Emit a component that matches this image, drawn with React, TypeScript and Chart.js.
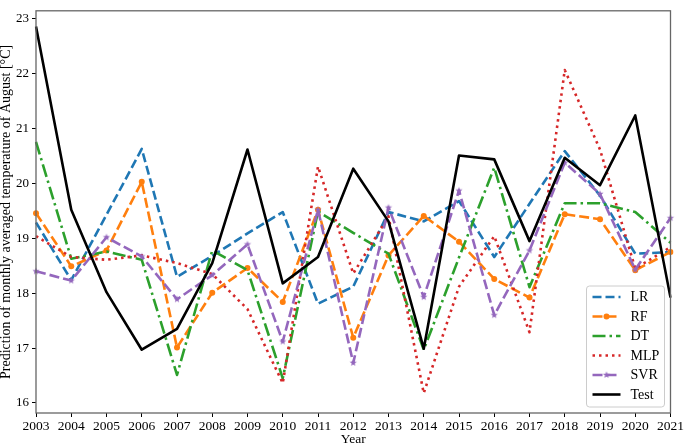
import React, { useEffect, useRef } from 'react';
import { Chart, registerables } from 'chart.js';

Chart.register(...registerables);

const years = ['2003', '2004', '2005', '2006', '2007', '2008', '2009', '2010', '2011', '2012', '2013', '2014', '2015', '2016', '2017', '2018', '2019', '2020', '2021'];

const lrValues = [19.29, 18.24, 19.43, 20.63, 18.30, 18.68, 19.09, 19.48, 17.81, 18.12, 19.48, 19.31, 19.68, 18.66, 19.63, 20.59, 19.78, 18.72, 18.75];
const rfValues = [19.46, 18.49, 18.78, 20.03, 17.01, 18.01, 18.46, 17.84, 19.52, 17.19, 18.69, 19.41, 18.94, 18.26, 17.92, 19.44, 19.35, 18.42, 18.75];
const dtValues = [20.76, 18.63, 18.76, 18.61, 16.51, 18.78, 18.42, 16.45, 19.49, 19.10, 18.72, 16.97, 18.65, 20.29, 18.11, 19.64, 19.64, 19.48, 18.92];
const mlpValues = [19.04, 18.66, 18.61, 18.69, 18.55, 18.35, 17.71, 16.36, 20.31, 18.36, 19.40, 16.18, 18.12, 19.04, 17.29, 22.07, 20.62, 18.45, 18.84];
const svrValues = [18.40, 18.23, 19.02, 18.67, 17.89, 18.33, 18.89, 17.12, 19.52, 16.73, 19.56, 17.93, 19.87, 17.60, 18.78, 20.38, 19.81, 18.43, 19.37];
const testValues = [22.86, 19.52, 18.02, 16.97, 17.35, 18.55, 20.62, 18.18, 18.66, 20.27, 19.31, 16.99, 20.51, 20.44, 18.95, 20.47, 19.97, 21.24, 17.92];

const yTicks = [16, 17, 18, 19, 20, 21, 22, 23];

const FONT = '"Liberation Serif", "Times New Roman", serif';

function makeStar(color: string, r: number): HTMLCanvasElement {
  const s = Math.ceil(r * 2 + 2);
  const c = document.createElement('canvas');
  c.width = s;
  c.height = s;
  const g = c.getContext('2d')!;
  g.fillStyle = color;
  g.beginPath();
  for (let k = 0; k < 10; k++) {
    const ang = -Math.PI / 2 + (k * Math.PI) / 5;
    const rr = k % 2 === 0 ? r : r * 0.4;
    g.lineTo(s / 2 + rr * Math.cos(ang), s / 2 + rr * Math.sin(ang));
  }
  g.closePath();
  g.fill();
  return c;
}

export default function App() {
  const ref = useRef<HTMLCanvasElement | null>(null);

  useEffect(() => {
    document.body.style.margin = '0';
    const canvas = ref.current;
    if (!canvas) return;
    const star = makeStar('#9467bd', 3.8);

    const framePlugin = {
      id: 'frame',
      afterDatasetsDraw(chart: any) {
        const { ctx, chartArea: a } = chart;
        ctx.save();
        ctx.strokeStyle = '#666';
        ctx.lineWidth = 1.3;
        ctx.setLineDash([]);
        ctx.strokeRect(a.left, a.top, a.right - a.left, a.bottom - a.top);
        ctx.restore();
      },
    };

    const legendPlugin = {
      id: 'mplLegend',
      afterDraw(chart: any) {
        const { ctx, chartArea: a } = chart;
        const w = 78;
        const h = 121;
        const x0 = a.right - 6 - w;
        const y0 = a.bottom - 6 - h;
        ctx.save();
        ctx.beginPath();
        const r = 3;
        ctx.moveTo(x0 + r, y0);
        ctx.lineTo(x0 + w - r, y0);
        ctx.quadraticCurveTo(x0 + w, y0, x0 + w, y0 + r);
        ctx.lineTo(x0 + w, y0 + h - r);
        ctx.quadraticCurveTo(x0 + w, y0 + h, x0 + w - r, y0 + h);
        ctx.lineTo(x0 + r, y0 + h);
        ctx.quadraticCurveTo(x0, y0 + h, x0, y0 + h - r);
        ctx.lineTo(x0, y0 + r);
        ctx.quadraticCurveTo(x0, y0, x0 + r, y0);
        ctx.closePath();
        ctx.fillStyle = 'rgba(255,255,255,0.85)';
        ctx.fill();
        ctx.strokeStyle = '#cccccc';
        ctx.lineWidth = 1;
        ctx.setLineDash([]);
        ctx.stroke();

        chart.data.datasets.forEach((ds: any, i: number) => {
          const y = y0 + 11 + i * 19.5;
          const lx0 = x0 + 6;
          const lx1 = x0 + 34;
          ctx.save();
          ctx.strokeStyle = ds.borderColor;
          ctx.lineWidth = ds.borderWidth;
          ctx.lineCap = 'butt';
          ctx.setLineDash(ds.borderDash || []);
          ctx.beginPath();
          ctx.moveTo(lx0, y);
          ctx.lineTo(lx1, y);
          ctx.stroke();
          ctx.restore();
          const cx = (lx0 + lx1) / 2;
          if (ds.label === 'RF') {
            ctx.fillStyle = ds.borderColor;
            ctx.beginPath();
            ctx.arc(cx, y, 3, 0, Math.PI * 2);
            ctx.fill();
          } else if (ds.label === 'SVR') {
            ctx.drawImage(star, cx - star.width / 2, y - star.height / 2);
          }
          ctx.fillStyle = '#000';
          ctx.font = '14px ' + FONT;
          ctx.textBaseline = 'middle';
          ctx.textAlign = 'left';
          ctx.fillText(ds.label, x0 + 44, y + 0.5);
        });
        ctx.restore();
      },
    };

    const base = {
      fill: false,
      tension: 0,
      borderWidth: 2.6,
      borderCapStyle: 'butt',
      borderJoinStyle: 'round',
      pointRadius: 0,
      pointHoverRadius: 0,
    };

    const chart = new Chart(canvas, {
      type: 'line',
      data: {
        labels: years,
        datasets: [
          { ...base, label: 'LR', data: lrValues, borderColor: '#1f77b4', borderDash: [9, 4], order: 5 },
          {
            ...base,
            label: 'RF',
            data: rfValues,
            borderColor: '#ff7f0e',
            borderDash: [10, 4],
            pointRadius: 3,
            pointStyle: 'circle',
            pointBackgroundColor: '#ff7f0e',
            pointBorderWidth: 0,
            order: 4,
          },
          { ...base, label: 'DT', data: dtValues, borderColor: '#2ca02c', borderDash: [13, 4, 2.5, 4], order: 3 },
          { ...base, label: 'MLP', data: mlpValues, borderColor: '#d62728', borderDash: [2.5, 4], order: 2 },
          {
            ...base,
            label: 'SVR',
            data: svrValues,
            borderColor: '#9467bd',
            borderDash: [10, 4],
            pointRadius: 3,
            pointStyle: star,
            order: 1,
          },
          { ...base, label: 'Test', data: testValues, borderColor: '#000000', order: 0 },
        ],
      } as any,
      options: {
        responsive: false,
        animation: false,
        devicePixelRatio: 1,
        events: [],
        layout: { padding: { top: 1, right: 13, left: 0, bottom: 0 } },
        plugins: {
          legend: { display: false },
          tooltip: { enabled: false },
        },
        scales: {
          x: {
            type: 'category',
            offset: false,
            grid: { display: true, drawOnChartArea: false, drawTicks: true, tickLength: 4, color: '#000', offset: false },
            border: { display: false },
            ticks: {
              autoSkip: false,
              maxRotation: 0,
              minRotation: 0,
              padding: 1,
              color: '#000',
              font: { family: FONT, size: 13.5 },
            },
            title: {
              display: true,
              text: 'Year',
              color: '#000',
              font: { family: FONT, size: 13.5, lineHeight: 1 },
              padding: { top: 0, bottom: -2 },
            },
            afterFit: (scale: any) => {
              scale.height = 31;
            },
          },
          y: {
            type: 'linear',
            min: 15.817,
            max: 23.148,
            grid: { display: true, drawOnChartArea: false, drawTicks: true, tickLength: 4, color: '#000' },
            border: { display: false },
            afterBuildTicks: (scale: any) => {
              scale.ticks = yTicks.map((v) => ({ value: v }));
            },
            ticks: {
              padding: 3,
              color: '#000',
              font: { family: FONT, size: 13 },
              callback: (v: any) => String(v),
            },
            title: {
              display: true,
              text: 'Prediction of monthly averaged temperature of August [°C]',
              color: '#000',
              font: { family: FONT, size: 14, lineHeight: 1 },
              padding: { top: -1, bottom: 0 },
            },
            afterFit: (scale: any) => {
              scale.width = 36;
            },
          },
        },
      } as any,
      plugins: [framePlugin, legendPlugin],
    });

    return () => {
      chart.destroy();
    };
  }, []);

  return (
    <div style={{ width: 685, height: 444, position: 'relative' }}>
      <canvas ref={ref} width={685} height={444} style={{ display: 'block', width: 685, height: 444 }} />
    </div>
  );
}
